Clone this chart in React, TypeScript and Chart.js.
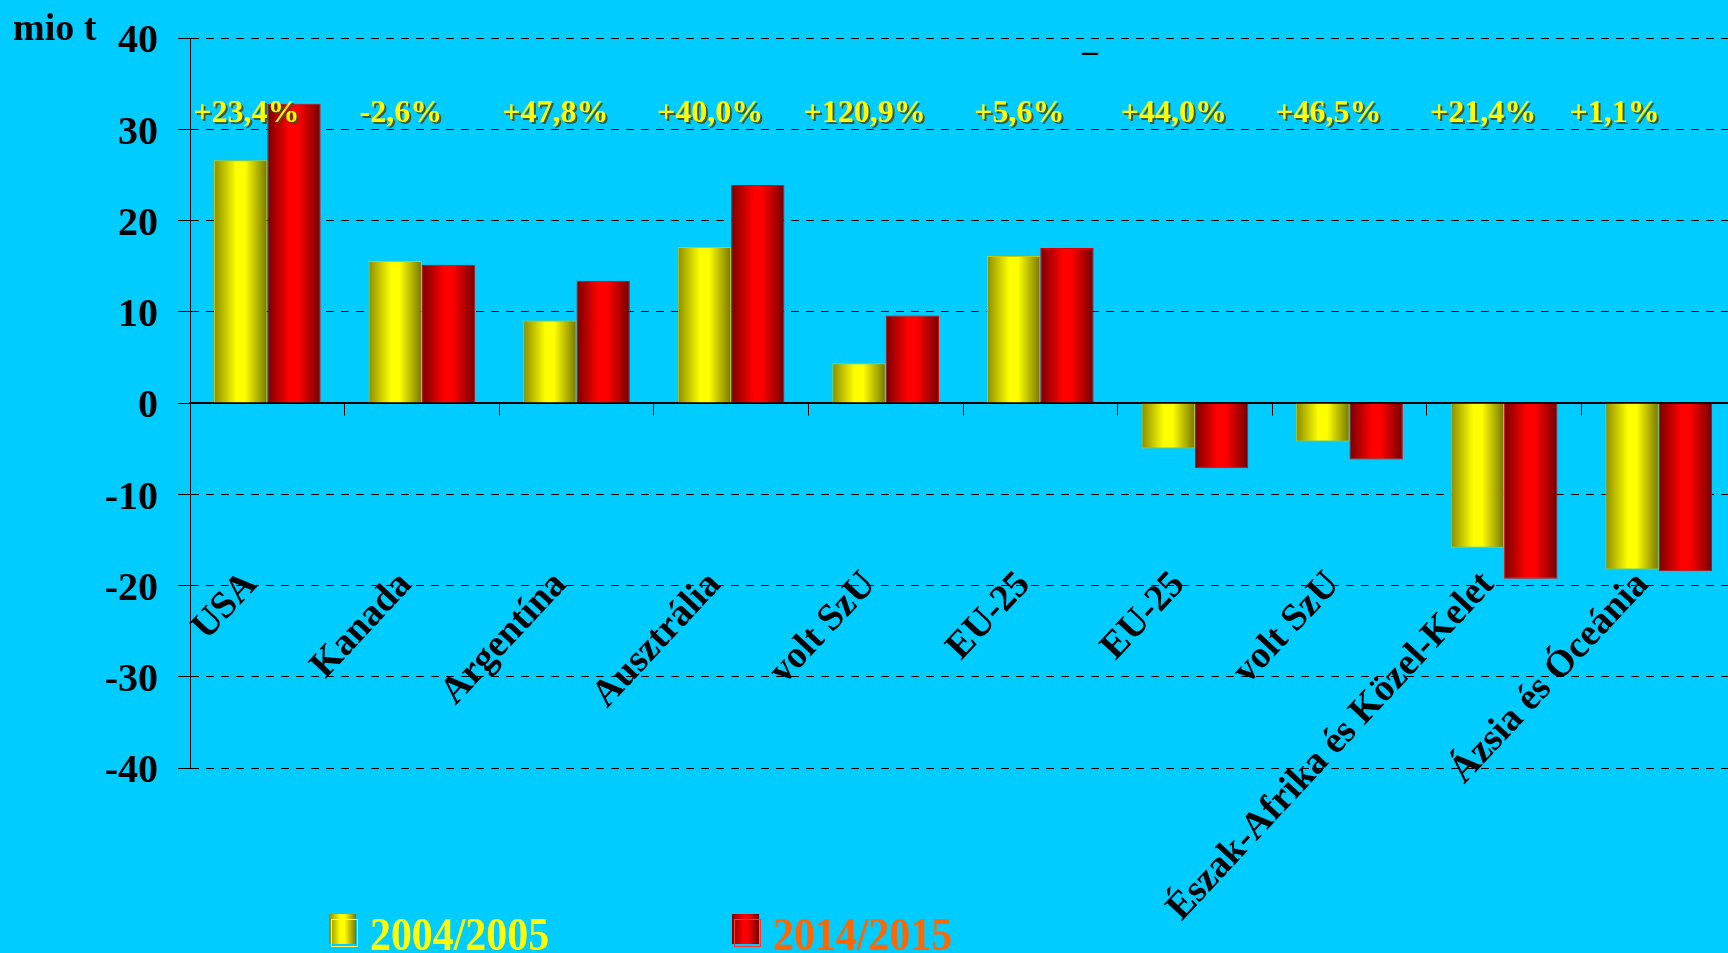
import React, { useEffect, useRef } from 'react';
import { Chart, registerables } from 'chart.js';

Chart.register(...registerables);

// ---------- data ----------
const categories = [
  'USA',
  'Kanada',
  'Argentína',
  'Ausztrália',
  'volt SzU',
  'EU-25',
  'EU-25',
  'volt SzU',
  'Észak-Afrika és Közel-Kelet',
  'Ázsia és Óceánia',
];
const series2004 = [26.6, 15.55, 9.05, 17.1, 4.35, 16.1, -4.98, -4.22, -15.85, -18.25];
const series2014 = [32.8, 15.15, 13.4, 23.9, 9.6, 17.0, -7.15, -6.2, -19.25, -18.45];
const changeLabels = ['+23,4%', '-2,6%', '+47,8%', '+40,0%', '+120,9%', '+5,6%', '+44,0%', '+46,5%', '+21,4%', '+1,1%'];
const seriesNames = ['2004/2005', '2014/2015'];
const yMin = -40;
const yMax = 40;
const yStep = 10;
const unitLabel = 'mio t';

// ---------- style ----------
const FONT = "'Liberation Serif', 'Times New Roman', Times, serif";
const BG = '#00CCFF';
const CHANGE_LABEL_LEVEL = 30.83; // value level of the % labels' baseline
const CHANGE_LABEL_SHIFT = -0.136; // fraction of a category
const changeLabelNudge = [0, 0, 0, 0, 0, 0, 0, 0, 0, -0.149];

const gradientStops: Array<Array<[number, string]>> = [
  [
    [0, '#8C8C00'],
    [0.42, '#FFFF00'],
    [0.58, '#FFFF00'],
    [1, '#777700'],
  ],
  [
    [0, '#7A0000'],
    [0.42, '#FF0000'],
    [0.58, '#FF0000'],
    [1, '#720000'],
  ],
];
const barBorders = ['#C8C800', '#E00000'];
const legendTextColors = ['#FFFF00', '#FF6600'];

const barGradientPlugin = {
  id: 'barGradient',
  beforeDatasetsDraw(chart: any) {
    const ctx = chart.ctx;
    chart.data.datasets.forEach((_ds: any, di: number) => {
      const meta = chart.getDatasetMeta(di);
      meta.data.forEach((el: any) => {
        const half = el.width / 2;
        const g = ctx.createLinearGradient(el.x - half, 0, el.x + half, 0);
        gradientStops[di].forEach(([o, c]) => g.addColorStop(o, c));
        el.options = Object.assign({}, el.options, { backgroundColor: g });
      });
    });
  },
};

const changeLabelPlugin = {
  id: 'changeLabels',
  afterDatasetsDraw(chart: any) {
    const { ctx } = chart;
    const x = chart.scales.x;
    const y = chart.scales.y;
    const step = x.getPixelForValue(1) - x.getPixelForValue(0);
    const yPix = y.getPixelForValue(CHANGE_LABEL_LEVEL);
    ctx.save();
    ctx.font = `bold 32px ${FONT}`;
    ctx.textAlign = 'center';
    ctx.textBaseline = 'alphabetic';
    changeLabels.forEach((t, i) => {
      const cx = x.getPixelForValue(i) + step * (CHANGE_LABEL_SHIFT + changeLabelNudge[i]);
      ctx.fillStyle = 'rgba(70,70,20,0.85)';
      ctx.fillText(t, cx + 2, yPix + 2);
      ctx.fillStyle = '#FFFF00';
      ctx.fillText(t, cx, yPix);
    });
    ctx.restore();
  },
};

function LegendBox({ idx }: { idx: number }) {
  const stops = gradientStops[idx]
    .map(([o, c]) => `${c} ${Math.round(o * 100)}%`)
    .join(', ');
  return (
    <div style={{ position: 'relative', width: 30, height: 33 }}>
      <div
        style={{
          position: 'absolute',
          left: 0,
          top: 0,
          width: 27,
          height: 30,
          background: `linear-gradient(90deg, ${stops})`,
        }}
      />
      <div
        style={{
          position: 'absolute',
          left: 2,
          top: 5,
          width: 25,
          height: 26,
          border: `1.5px solid ${idx === 0 ? '#FFFF66' : '#FF3333'}`,
        }}
      />
    </div>
  );
}

export default function App() {
  const ref = useRef<HTMLCanvasElement>(null);

  useEffect(() => {
    if (!ref.current) return;
    const chart = new Chart(ref.current, {
      type: 'bar',
      data: {
        labels: categories,
        datasets: [
          {
            label: seriesNames[0],
            data: series2004,
            backgroundColor: '#FFFF00',
            borderColor: barBorders[0],
            borderWidth: 1,
            categoryPercentage: 0.69,
            barPercentage: 1.0,
          },
          {
            label: seriesNames[1],
            data: series2014,
            backgroundColor: '#FF0000',
            borderColor: barBorders[1],
            borderWidth: 1,
            categoryPercentage: 0.69,
            barPercentage: 1.0,
          },
        ],
      },
      options: {
        animation: false,
        responsive: true,
        maintainAspectRatio: false,
        layout: { padding: { top: 38, bottom: 185, left: 0, right: 0 } },
        plugins: {
          legend: { display: false },
          tooltip: { enabled: false },
          title: { display: false },
        },
        scales: {
          x: {
            axis: 'x',
            position: { y: 0 } as any,
            offset: true,
            grid: {
              drawOnChartArea: false,
              drawTicks: true,
              tickLength: 12,
              color: '#000',
              tickColor: '#000',
              lineWidth: 1,
              offset: true,
            },
            border: { display: true, color: '#000', width: 1.5 },
            ticks: {
              autoSkip: false,
              maxRotation: 47,
              minRotation: 47,
              padding: 148,
              labelOffset: -16,
              color: '#000',
              font: { family: FONT, size: 38, weight: 'bold' },
            },
            afterFit(s: any) {
              s.paddingLeft = 0;
              s.paddingRight = 0;
              s.paddingTop = 0;
              s.paddingBottom = 0;
            },
          },
          y: {
            min: yMin,
            max: yMax,
            ticks: {
              stepSize: yStep,
              padding: 20,
              labelOffset: 4,
              color: '#000',
              font: { family: FONT, size: 40, weight: 'bold' },
            },
            grid: {
              color: '#000',
              lineWidth: 1,
              tickLength: 12,
              tickColor: '#000',
              tickBorderDash: [],
              drawTicks: true,
            },
            border: {
              display: true,
              color: '#000',
              width: 1,
              dash: (c: any) => (c.tick && c.tick.value !== 0 ? [8, 7] : []),
            },
            afterFit(s: any) {
              s.width = 190;
              s.paddingTop = 0;
              s.paddingBottom = 0;
            },
          },
        },
      },
      plugins: [barGradientPlugin, changeLabelPlugin],
    } as any);
    return () => chart.destroy();
  }, []);

  return (
    <div
      style={{
        position: 'fixed',
        left: 0,
        top: 0,
        width: 1728,
        height: 953,
        overflow: 'hidden',
        background: BG,
        fontFamily: FONT,
      }}
    >
      <div style={{ position: 'absolute', left: 0, top: 0, width: 1736, height: 953 }}>
        <canvas ref={ref} />
      </div>
      <div
        style={{
          position: 'absolute',
          left: 13,
          top: 8,
          font: `bold 38px ${FONT}`,
          lineHeight: 1,
          color: '#000',
          whiteSpace: 'nowrap',
        }}
      >
        {unitLabel}
      </div>
      <div
        style={{
          position: 'absolute',
          left: 1082,
          top: 34,
          font: `bold 32px ${FONT}`,
          lineHeight: 1,
          color: '#000',
        }}
      >
        –
      </div>
      {seriesNames.map((name, i) => (
        <div
          key={name}
          style={{
            position: 'absolute',
            left: i === 0 ? 329 : 732,
            top: 914,
            display: 'flex',
            alignItems: 'flex-start',
          }}
        >
          <LegendBox idx={i} />
          <div
            style={{
              position: 'absolute',
              left: 41,
              top: -2.5,
              font: `bold 46px ${FONT}`,
              lineHeight: 1,
              color: legendTextColors[i],
              whiteSpace: 'nowrap',
              transform: 'scaleX(0.91)',
              transformOrigin: '0 0',
            }}
          >
            {name}
          </div>
        </div>
      ))}
    </div>
  );
}
